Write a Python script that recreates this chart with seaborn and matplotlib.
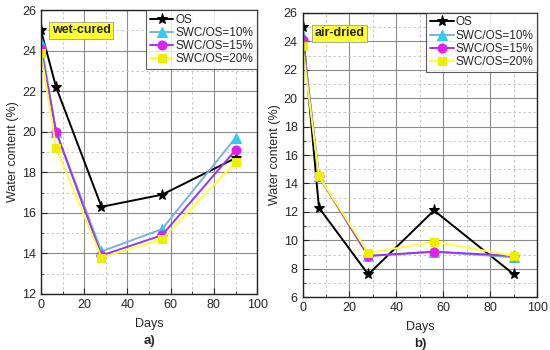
import matplotlib
matplotlib.use("Agg")
import matplotlib.pyplot as plt
import seaborn as sns
import pandas as pd
from matplotlib.ticker import MultipleLocator

days = [0, 7, 28, 56, 90]
series_names = ["OS", "SWC/OS=10%", "SWC/OS=15%", "SWC/OS=20%"]

# wet-cured water content (%)
wet_os = [25.0, 22.2, 16.3, 16.9, 18.7]
wet_10 = [24.4, 20.0, 14.1, 15.2, 19.7]
wet_15 = [24.1, 20.0, 13.9, 14.9, 19.1]
wet_20 = [23.9, 19.2, 13.8, 14.7, 18.5]

# air-dried water content (%)
air_os = [25.0, 12.3, 7.6, 12.1, 7.6]
air_10 = [24.4, 14.5, 8.9, 9.2, 8.8]
air_15 = [24.1, 14.5, 8.9, 9.2, 8.9]
air_20 = [23.7, 14.5, 9.1, 9.9, 8.9]

line_colors = ["black", "#7ab0e8", "#9933ff", "#ffff33"]
marker_colors = ["black", "#33ccee", "#dd22ee", "#eeee00"]
markers = ["*", "^", "o", "s"]
msizes = [8, 6.5, 6.5, 6]

sns.set_style("white")
plt.rcParams["font.family"] = ["Liberation Sans", "DejaVu Sans"]

fig = plt.figure(figsize=(5.5, 3.5), dpi=100)
ax1 = fig.add_axes([0.0745, 0.16, 0.393, 0.811])
ax2 = fig.add_axes([0.55, 0.151, 0.427, 0.812])


def draw(ax, values, ylim, label, panel):
    for name, vals, lc, mc, mk, ms in zip(series_names, values, line_colors,
                                          marker_colors, markers, msizes):
        df = pd.DataFrame({"Days": days, "wc": vals})
        sns.lineplot(data=df, x="Days", y="wc", ax=ax, color=lc, lw=1.4,
                     marker=mk, markersize=ms, markerfacecolor=mc,
                     markeredgecolor=mc, label=name)
    ax.set_xlim(0, 100)
    ax.set_ylim(*ylim)
    ax.xaxis.set_major_locator(MultipleLocator(20))
    ax.xaxis.set_minor_locator(MultipleLocator(10))
    ax.yaxis.set_major_locator(MultipleLocator(2))
    ax.yaxis.set_minor_locator(MultipleLocator(1))
    ax.grid(which="major", color="#8c8c8c", lw=0.8)
    ax.grid(which="minor", color="#c0c0c0", lw=0.6, ls=(0, (3, 3)))
    ax.set_axisbelow(True)
    ax.tick_params(which="both", direction="in", labelsize=9,
                   left=True, bottom=True)
    ax.tick_params(which="major", length=4)
    ax.tick_params(which="minor", length=2)
    for s in ax.spines.values():
        s.set_color("#222222")
        s.set_linewidth(1.0)
    ax.set_xlabel("Days", fontsize=9, labelpad=5)
    ax.set_ylabel("Water content (%)", fontsize=9, labelpad=2)
    ax.text(0.05, 0.95, label, transform=ax.transAxes, fontsize=9,
            fontweight="bold", va="top", ha="left",
            bbox=dict(boxstyle="square,pad=0.2", fc="#ffff33", ec="#999999", lw=0.6))
    ax.text(0.5, -0.165, panel, transform=ax.transAxes, fontsize=9.5,
            fontweight="bold", ha="center", va="center")
    leg = ax.legend(loc="upper right", fontsize=8.5, frameon=True, fancybox=False,
                    borderpad=0.3, labelspacing=0.1, handlelength=2.0,
                    handletextpad=0.2, borderaxespad=0.0)
    leg.get_frame().set_edgecolor("#333333")
    leg.get_frame().set_linewidth(0.8)


draw(ax1, [wet_os, wet_10, wet_15, wet_20], (12, 26), "wet-cured", "a)")
draw(ax2, [air_os, air_10, air_15, air_20], (6, 26), "air-dried", "b)")

fig.savefig("out.png", dpi=100)
